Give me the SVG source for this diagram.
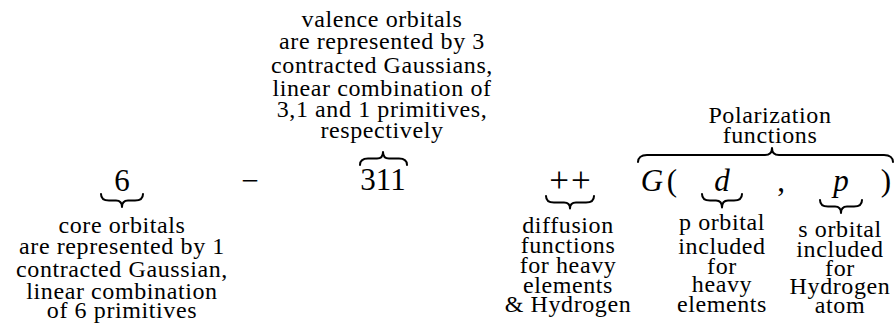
<svg xmlns="http://www.w3.org/2000/svg" width="895" height="323" viewBox="0 0 895 323">
<style>
.bg{fill:#ffffff}
.m{font-family:'Liberation Serif','Times New Roman',serif;font-size:31px;fill:#000;text-anchor:middle}
.mi{font-style:italic}
.pl{font-size:35px;letter-spacing:2px}
.t{font-family:'Liberation Serif','Times New Roman',serif;font-size:24px;letter-spacing:0.6px;fill:#000;text-anchor:middle}
.br{fill:none;stroke:#000;stroke-width:2;stroke-linecap:round;stroke-linejoin:round}
</style>
<rect class="bg" x="0" y="0" width="895" height="323"/>

<g id="core">
  <text class="m" x="122" y="191">6</text>
  <text class="t" x="122" y="233">core orbitals</text>
  <text class="t" x="122" y="254">are represented by 1</text>
  <text class="t" x="122" y="277">contracted Gaussian,</text>
  <text class="t" x="122" y="299">linear combination</text>
  <text class="t" x="122" y="318">of 6 primitives</text>
</g>

<g id="minus">
  <text class="m" x="250" y="191">−</text>
</g>

<g id="valence">
  <text class="m" x="383" y="190">311</text>
  <text class="t" x="382" y="27">valence orbitals</text>
  <text class="t" x="382" y="49">are represented by 3</text>
  <text class="t" x="382" y="73">contracted Gaussians,</text>
  <text class="t" x="382" y="96">linear combination of</text>
  <text class="t" x="382" y="117">3,1 and 1 primitives,</text>
  <text class="t" x="382" y="138">respectively</text>
</g>

<g id="diffusion">
  <text class="m pl" x="571" y="192">++</text>
  <text class="t" x="568" y="233">diffusion</text>
  <text class="t" x="568" y="253">functions</text>
  <text class="t" x="568" y="273">for heavy</text>
  <text class="t" x="568" y="293">elements</text>
  <text class="t" x="568" y="312">&amp; Hydrogen</text>
</g>

<g id="polarization">
  <text class="m mi" x="652" y="191">G</text>
  <text class="m" x="672" y="191">(</text>
  <text class="m" x="781" y="191">,</text>
  <text class="m" x="886" y="191">)</text>
  <text class="t" x="770" y="123">Polarization</text>
  <text class="t" x="770" y="143">functions</text>
</g>

<g id="d-orbital">
  <text class="m mi" x="722" y="191">d</text>
  <text class="t" x="722" y="230">p orbital</text>
  <text class="t" x="722" y="254">included</text>
  <text class="t" x="722" y="274">for</text>
  <text class="t" x="722" y="292">heavy</text>
  <text class="t" x="722" y="312">elements</text>
</g>

<g id="p-orbital">
  <text class="m mi" x="841" y="191">p</text>
  <text class="t" x="840" y="237">s orbital</text>
  <text class="t" x="840" y="257">included</text>
  <text class="t" x="840" y="276">for</text>
  <text class="t" x="840" y="294">Hydrogen</text>
  <text class="t" x="840" y="313">atom</text>
</g>

<g id="connectors">
  <path class="br" d="M101,194 C101,198 104,200.5 109,200.5 L116,200.5 C119.5,200.5 122,202.5 122,207 C122,202.5 124.5,200.5 128,200.5 L135,200.5 C140,200.5 143,198 143,194"/>
  <path class="br" d="M360,165 C360,161 363,158.5 368,158.5 L377,158.5 C380.5,158.5 383,156.5 383,152 C383,156.5 385.5,158.5 389,158.5 L399,158.5 C404,158.5 407,161 407,165"/>
  <path class="br" d="M546,196 C546,200 549,202.5 554,202.5 L564,202.5 C567.5,202.5 570,204.5 570,208.5 C570,204.5 572.5,202.5 576,202.5 L586,202.5 C591,202.5 594,200 594,196"/>
  <path class="br" d="M638,162 C638,158 641,155 647,155 L765,155 C769,155 772,153 772,148 C772,153 775,155 779,155 L884,155 C890,155 893,158 893,162"/>
  <path class="br" d="M702,194 C702,198 705,200.5 710,200.5 L716,200.5 C719.5,200.5 722,202.5 722,207.5 C722,202.5 724.5,200.5 728,200.5 L734,200.5 C739,200.5 742,198 742,194"/>
  <path class="br" d="M820,200 C820,204 823,206.5 828,206.5 L835,206.5 C838.5,206.5 841,208.5 841,213 C841,208.5 843.5,206.5 847,206.5 L854,206.5 C859,206.5 862,204 862,200"/>
</g>
</svg>
